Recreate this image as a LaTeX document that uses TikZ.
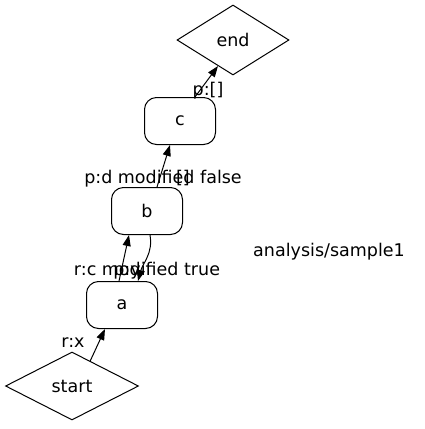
\documentclass[tikz,border=0pt]{standalone}
\usepackage{fontspec}
\setmainfont{DejaVu Sans}
\usetikzlibrary{shapes.geometric,arrows.meta}
\begin{document}
\begin{tikzpicture}[x=1pt,y=1pt,
  every node/.style={font=\fontsize{17.5}{20}\selectfont, inner sep=0pt},
  stepbox/.style={draw, rounded corners=12pt, minimum width=71pt, minimum height=47pt, line width=1pt},
  decision/.style={draw, diamond, aspect=1.6, line width=1pt},
  lbl/.style={anchor=base},
  edge/.style={line width=1pt, -{Triangle[length=11pt,width=8pt]}}]
\useasboundingbox (0,0) rectangle (425,-429);
\node[decision, minimum width=112pt, minimum height=70pt] (end) at (233,-40) {end};
\node[stepbox] (c) at (180,-121) {c};
\node[stepbox] (b) at (147,-211) {b};
\node[stepbox] (a) at (122,-305) {a};
\node[decision, minimum width=133pt, minimum height=68pt] (start) at (72,-386) {start};
\node[lbl] (title) at (329,-256) {analysis/sample1};
\draw[edge] (start.54) -- ([xshift=-17pt]a.south);
\draw[edge] ([xshift=-3pt]a.north) -- ([xshift=-18pt]b.south);
\draw[edge] ([xshift=3pt]b.south) to[out=-80,in=75] ([xshift=16pt]a.north);
\draw[edge] ([xshift=10pt]b.north) -- ([xshift=-10pt]c.south);
\draw[edge] ([xshift=15pt]c.north) -- (end.240);
\node[lbl] (l1) at (73,-347) {r:x};
\node[lbl] (l2) at (147,-275) {r:c modified true};
\node[lbl] (l3) at (127,-275) {p:y};
\node[lbl] (l4) at (163,-183) {p:d modified false};
\node[lbl] (l5) at (183,-183) {[]};
\node[lbl] (l6) at (208,-95) {p:[]};
\end{tikzpicture}
\end{document}
